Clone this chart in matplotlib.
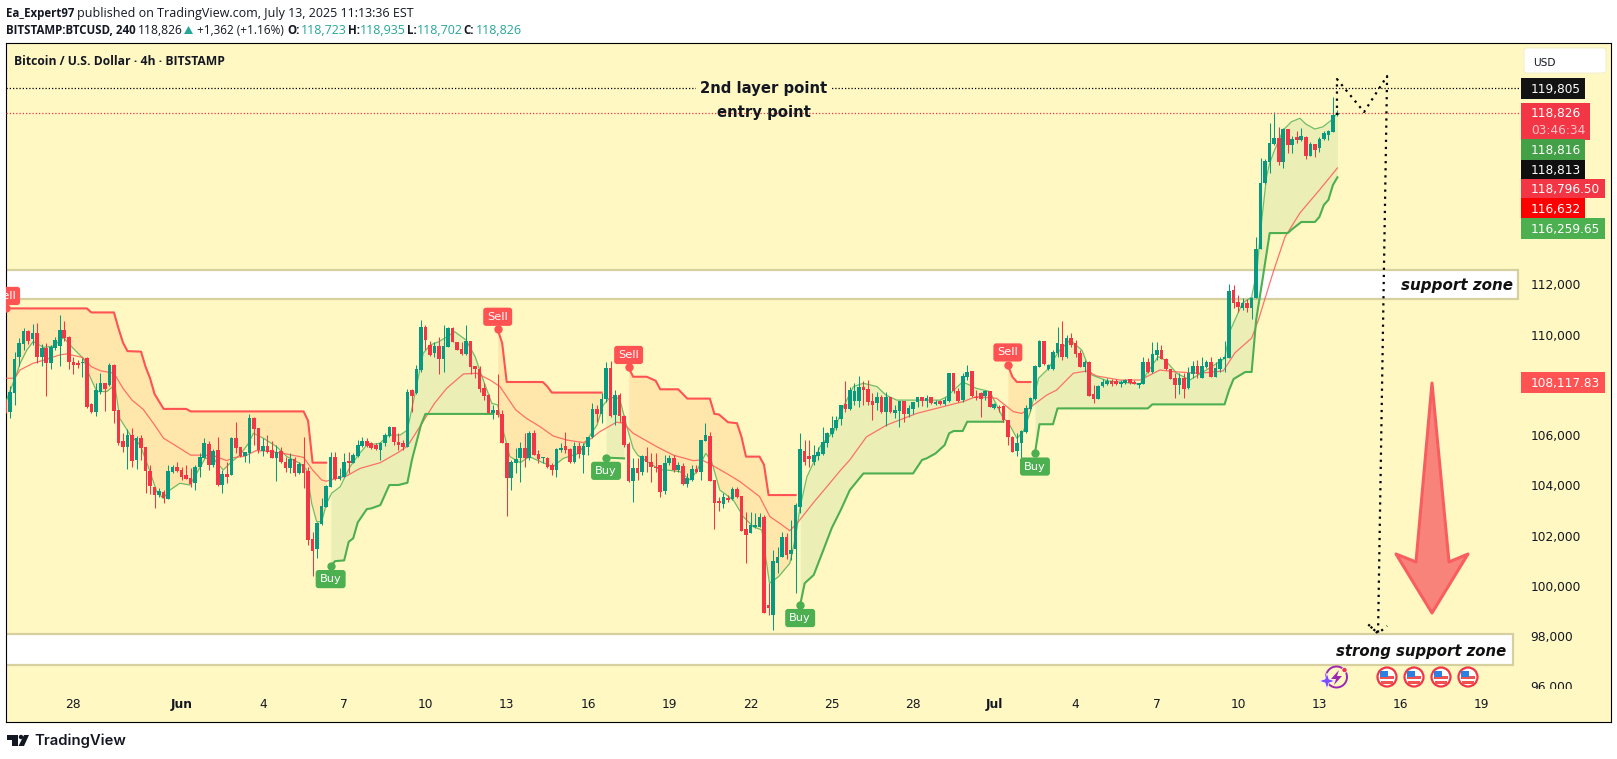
import numpy as np
import matplotlib
matplotlib.use("Agg")
import matplotlib.pyplot as plt
from matplotlib.patches import Rectangle, Polygon, Circle, FancyBboxPatch
from matplotlib.transforms import Affine2D, Bbox

# 4h candles, first one is 39 bars before Jun 1 00:00
opens = [107300,106930,107690,109090,109620,110140,109820,110050,109090,109450,
    108880,109450,109540,110170,109920,108910,108880,108880,109050,107230,
    106920,107730,108080,107980,108790,107000,105780,105510,106000,105010,
    105870,105510,104570,103920,103600,103740,103470,104540,104710,104610,
    104420,104280,104080,104740,105070,105640,104810,105400,104010,104450,
    104420,105870,105540,105160,105300,106680,106270,105360,105560,105400,
    105070,105360,104940,104670,105050,104470,104850,104570,101850,101480,
    102460,103120,103940,105120,104250,104340,104980,104900,105160,105560,
    105760,105670,105600,105400,105670,105970,106310,105740,105700,105540,
    107790,107660,108590,110310,109580,109250,109540,109040,109490,110250,
    109690,109410,109210,109740,108750,108620,107890,107580,106890,107000,
    106820,105700,104300,104870,105070,105500,105070,106090,105260,105070,
    105070,104810,104610,105400,105580,105460,104930,105560,105200,105540,
    105910,107020,106840,107420,108650,106800,107580,106760,105640,104180,
    104670,104540,105170,104940,104740,104810,103770,104870,105100,104590,
    104780,104050,104210,104650,104540,105780,105960,104210,103360,103250,
    103510,103440,103850,103570,102270,102090,102330,102350,102750,99230,
    98840,100890,101160,101950,101260,101450,103140,105380,105180,104940,
    105180,105240,105670,106040,106270,106620,107220,107020,107370,107370,
    107930,107830,107350,107260,107530,106900,107500,106890,106970,107350,
    106820,107040,107330,107500,107370,107500,107220,107370,107220,107370,
    108460,107770,107390,108300,108550,107530,107660,107550,107740,107060,
    107130,107160,106600,105930,105360,105670,106130,107040,107420,108720,
    109740,108620,108620,109280,109620,109120,109850,109650,109280,108720,
    108920,107630,107430,107950,108030,108160,108150,108020,108060,108220,
    108120,108000,108030,108890,108520,109170,109380,109030,108630,108280,
    107990,108260,107860,108430,108750,108260,108690,108920,108320,108630,
    109040,109060,111770,111280,111070,111240,111050,111440,113400,116030,
    116870,117580,117820,116870,118180,117540,117860,117740,117860,117110,
    117580,117430,117780,117940,118060,118723]
closes = [106930,107700,109010,109650,110140,109760,110050,109090,109450,108850,
    109490,109780,110170,109850,108910,108790,108770,108910,107100,106900,
    107780,108060,107820,108770,106970,105670,105540,106000,104980,105890,
    105500,104580,103970,103610,103770,103480,104570,104710,104570,104340,
    104260,104050,104740,105140,105680,104820,105380,104010,104450,104340,
    105890,105470,105160,105320,106660,106250,105400,105560,105340,105100,
    105340,104930,104670,105050,104470,104850,104500,101820,101400,102510,
    103170,103970,105120,104240,104380,104930,104900,105220,105600,105760,
    105560,105470,105430,105670,106000,106330,105740,105600,105510,107730,
    107550,108630,110310,109780,109190,109540,109010,109540,110250,109690,
    109380,109210,109760,108720,108620,107830,107570,106890,107000,106800,
    105670,104300,104930,105030,105500,105070,106090,105200,105050,105100,
    104740,104610,105440,105500,105400,104930,105560,105250,105560,105910,
    107020,106840,107420,108650,106760,107580,106760,105600,104170,104670,
    104470,105180,104910,104740,104670,103750,104870,105070,104610,104790,
    104050,104280,104650,104510,105800,106000,104180,103310,103280,103520,
    103410,103840,103550,102190,102020,102420,102420,102720,98900,99100,
    100990,101160,101950,101220,101420,103210,105430,104940,105050,105200,
    105310,105740,106090,106270,106600,107200,107050,107790,107770,107930,
    107790,107330,107200,107500,106900,107500,106900,107000,107350,106820,
    107090,107300,107500,107370,107490,107260,107330,107220,107390,108460,
    107750,107370,108350,108520,107570,107460,107420,107750,107130,107220,
    107060,106600,105930,105340,105670,106160,107060,107460,108750,109760,
    108830,108790,109290,109650,109120,109880,109580,109230,108720,108920,
    107570,107430,107970,108120,108160,108030,108030,108100,108190,108060,
    108040,108060,108890,108520,109230,109380,109030,108630,108230,107990,
    108280,107830,108460,108750,108430,108750,108920,108320,108660,109020,
    109120,111730,111240,111090,111240,111050,111440,113390,116030,116900,
    117620,117820,116870,118180,117540,117780,117740,117900,117110,117580,
    117350,117780,118020,118100,118740,118826]
highs = [107390,107950,109320,109850,110270,110180,110410,110450,109620,109650,
    109580,109920,110780,110540,109940,109120,108990,109050,109090,107260,
    108060,108460,108080,108880,108830,107000,106070,106230,106270,105960,
    106000,105510,104810,103940,103880,103810,104810,104810,104910,104740,
    104810,104670,104810,105300,105870,105760,105430,105910,104610,104940,
    105930,106510,105540,105340,106820,106730,106270,105870,106000,105780,
    105600,105510,105140,105270,105140,104940,105910,104740,102150,102550,
    103480,104010,105340,105340,104670,105270,105340,105270,105800,105930,
    105890,105740,105670,105740,106090,106360,106330,106070,105800,107820,
    107820,108790,110580,110380,109760,109720,109920,110380,110290,110290,
    109720,109720,110380,109760,108750,108750,108060,107630,107200,108430,
    107000,105700,105010,105500,105740,106070,106160,106200,105400,105140,
    105110,104870,105470,105670,106110,105470,105740,105740,105670,105930,
    107260,107200,107660,108920,108950,107790,107660,106800,105740,105070,
    105070,105200,105510,105270,105270,104810,105200,105200,105200,104940,
    104870,104470,104810,104810,105800,106470,106130,104210,103550,103680,
    103610,103940,103940,103570,102950,102950,102910,102880,102820,100100,
    101420,101560,102150,102090,102620,103280,106080,105800,105800,105600,
    105540,106330,106130,106760,106760,107200,108160,107930,108080,108350,
    108160,108190,107660,107730,107590,107730,107500,107200,107350,107350,
    107200,107330,107500,107530,107590,107530,107390,107390,107530,108460,
    108480,107860,108460,108790,108550,107790,107730,107790,107750,107260,
    107200,107200,106600,105970,106070,106200,107200,107500,108790,109780,
    109760,108830,109380,110290,110540,109980,110050,109780,109390,108990,
    108960,107990,107990,108220,108260,108220,108220,108190,108220,108220,
    108190,108060,109120,109050,109720,109720,109580,109050,108630,108460,
    108460,108460,108690,108960,108990,109120,108990,109120,108920,109120,
    109760,112010,111970,111580,111440,111400,111480,113870,117010,116990,
    118420,118860,118260,118220,118180,117900,118100,118220,117900,117660,
    117580,117860,118100,118140,119450,118935]
lows = [106860,106690,107200,108750,109380,109620,109580,108850,108750,107550,
    108620,109380,108750,109760,108620,108430,108650,108320,107060,106860,
    106760,107630,106970,107950,106490,105600,105340,104660,104740,104650,
    105010,103680,103650,103110,103550,103310,103440,104500,104540,104210,
    104240,103940,103810,104320,105070,104610,104710,103970,103680,104080,
    104410,105270,105110,104940,104900,105600,105270,105160,105270,105070,
    104180,104900,104510,104470,104370,104430,103880,101620,100400,101090,
    102420,103120,103940,104210,104210,104320,104470,104870,105140,105540,
    105540,105430,105400,105010,105560,105930,105600,105400,105400,105510,
    106930,107630,108520,109380,109150,109120,108430,108520,109490,109690,
    109380,109190,109190,108430,108260,107730,107390,106890,106620,106700,
    105670,102790,103810,104470,104140,104740,105010,105200,104870,104870,
    104670,104410,104340,105310,105270,104870,104870,105070,104500,105200,
    105870,106530,106470,107330,106730,106400,106530,105540,104140,103350,
    104210,104410,104540,104140,104540,103520,103640,104810,104540,104540,
    104010,103940,104180,104470,104210,105780,104180,102260,102990,103080,
    103350,103410,103480,102190,100920,102090,102290,102330,98900,98840,
    98240,100490,101160,101050,101020,99710,102890,104810,104740,104810,
    105010,105200,105540,105930,106200,106400,106930,107000,107200,107130,
    107200,107200,106600,107000,106890,106360,106860,106660,106330,106530,
    106730,106840,107130,107160,107130,107240,107200,107200,107200,107330,
    107660,107330,107330,108190,107530,107390,106730,107390,107100,107020,
    106930,106530,105600,105340,105180,105070,106070,106970,107390,108690,
    108790,108590,108590,109120,108990,109050,109520,109120,108720,108520,
    107550,107290,107420,107930,107990,107950,107990,107930,108030,108020,
    108020,107860,108020,108480,108460,108990,109010,108590,108220,107460,
    107630,107460,107830,108260,108260,108260,108650,108320,108320,108520,
    108520,109060,111050,110910,110980,110910,110610,111440,113400,116000,
    116430,117540,116750,116630,117230,117230,117620,117700,116990,117110,
    117070,117270,117740,117740,118060,118702]
first_bar = -39

# fast line (thin green), bar position / price
fast_k = [-39,-36.5,-35.8,-34.3,-32.9,-30.6,-28.4,-26.2,-24.4,-21.8,-20.3,-18.8,-16.6,-14.8,-13.7,-11.4,-9.2,-7.4,-5.5,-4.1,
    -2.6,-0.4,1.8,3.3,5.2,7,9.2,11.1,12.9,14.8,15.9,18.1,21,23.3,26.2,27.7,28.8,29.9,31,32.1,
    33.2,35.1,37.3,39.1,41,43.9,45.8,48.4,50,52,53.5,55,57,60.5,63,65,66.8,68.7,70,71.2,
    72.7,75,77,80,82.3,84.5,88,90,92,93.4,94.9,97,98.5,100,101,103.7,106,107.4,110.4,112.6,
    114,116.1,117.4,119.2,122.2,124.4,126.6,128.5,130.2,132.2,134.7,136,137,138.5,139.9,141.4,142,144.4,146.6,148.8,
    151,154,156,158.4,162,168,169.5,173,176,179,180.5,182,183,185,186.4,188,189.8,192,194.2,196.8,
    199.4,201.6,205,212.3,213.8,216.3,217.8,220.4,223.3,227,231,232.3,235,237,238.2,239,240.3,241,242.1,244,
    245.8,247.7,249,251,252.8,254.7,256]
fast_p = [107300,108460,108850,109380,109720,109490,109540,109880,109520,109050,108320,107730,107730,107990,106660,106000,105600,104740,103740,103480,
    103810,104080,104010,104470,105070,105070,104610,104940,105200,105670,106070,105870,105540,105140,104870,104610,103280,102550,102550,103280,
    103680,103940,104740,105200,105600,105670,106000,106000,106200,107930,109250,109580,109720,110110,109780,109120,108190,107260,107200,106200,
    105140,104900,105140,104900,104740,105070,105270,105870,106400,107200,107500,107460,106400,105470,105200,104870,104610,104610,104540,104210,
    104540,105270,104940,103810,103410,102750,102350,102220,100100,100360,100890,101950,103150,104340,104880,105540,105680,106130,107130,107930,
    108060,107930,107590,107390,107390,107390,107530,108120,107860,107730,107200,106660,106530,105870,106130,106930,108260,108650,109320,109780,
    109380,108390,108160,108030,108460,109120,108990,108460,108190,108590,109050,110180,111260,111490,112570,114160,116280,116820,117350,118140,
    118470,118610,118380,118180,118270,118540,118816]

# slow line (thin red)
slow_k = [-39,-37,-35.8,-33,-30,-27,-25.5,-22,-20,-18,-15,-13,-11,-8.5,-6,-4,-1,2,4,7,
    10,11.5,14,16.5,19,22.5,27,29,31,32,33.6,36.5,39.5,44,48,50,53,56,58.7,62.4,
    65.3,68.3,70.5,74,76.4,79.4,82.3,85.3,89,90.8,92.6,96.3,97.8,100,105.2,108.9,113.3,115.2,117.4,120.7,
    123.7,128,130.3,132.5,134.7,136.6,139.9,142.9,146,148,151.7,156.2,162.8,168.7,173.1,176,180.5,184.2,186.1,188.7,
    191.6,193.8,197.5,200.5,202.7,207.8,212.3,216.7,219.7,225.6,230.7,233.3,237,238.5,241.8,244.4,247.7,252,256]
slow_p = [108260,108260,108590,108850,109010,109190,109230,109090,108720,108560,108460,107860,107390,107020,106400,105870,105540,105200,105200,105180,
    104980,105100,105160,105380,105360,105270,105110,104610,104210,104160,104240,104370,104670,104900,105310,105560,106400,107260,107860,108430,
    108460,108190,107930,107000,106660,106330,105960,105800,105700,105870,106130,106510,106470,106070,105540,105200,104980,105010,104810,104470,
    104140,103550,102750,102480,102190,102550,103300,103940,104610,105010,105930,106400,106860,107130,107330,107530,107460,106930,106860,107200,
    107590,107790,108460,108550,108350,108190,108190,108590,108520,108460,108550,109270,109860,110580,112500,113890,114840,115750,116632]

# trailing stop, one pair of lists per leg
red1_k = [-39,-21,-20,-15,-14,-13,-12,-9,-8,-7,-6,-4,1,2,27,28,29,32]
red1_p = [111040,111040,110880,110880,110250,109680,109340,109320,108720,108260,107630,107040,107040,106940,106940,106570,104900,104900]
green1_k = [33,34,36,37,38,39,41,42,44,46,48,50,51,53,54,69]
green1_p = [100790,100980,101010,101750,101890,102520,103050,103080,103210,104010,104010,104100,105010,106400,106840,106840]
red2_k = [70,71,72,80,81,82,93]
red2_p = [110210,109650,108110,108110,107930,107690,107690]
green2_k = [94,98]
green2_p = [105100,105070]
red3_k = [99,100,103,105,106,110,112,117,118,119,121,123,124,125,128,129,130,136]
red3_p = [108690,108320,108320,108160,107820,107820,107450,107450,106840,106820,106510,106470,105930,105140,105140,104810,103610,103610]
green3_k = [137,138,140,142,144,146,148,151,162,164,165,167,169,170,171,173,174,182]
green3_p = [99240,100100,100430,101360,102300,103020,103810,104470,104470,105010,105070,105270,105600,106070,106160,106160,106530,106530]
red4_k = [183,184,185,188]
red4_p = [108790,108320,108110,108110]
green4_k = [189,190,193,194,214,215,231,232,233,235.6,237,238,239.5,241,245,246,248,251,252,253,254,255,256]
green4_p = [105270,106430,106430,107060,107060,107220,107220,107790,108230,108510,108510,110580,112290,114040,114040,114200,114480,114480,114680,115160,115360,115950,116260]
red_legs = [(red1_k, red1_p), (red2_k, red2_p), (red3_k, red3_p), (red4_k, red4_p)]
green_legs = [(green1_k, green1_p), (green2_k, green2_p), (green3_k, green3_p), (green4_k, green4_p)]

sell_k = [-39, 70, 99, 183]
sell_p = [111040, 110210, 108690, 108790]
buy_k = [33, 94, 137, 189]
buy_p = [100790, 105100, 99240, 105270]

# drawn levels and the projected path
second_layer = 119805
entry_level = 118826
support_zone = [111415, 112569]
strong_zone = [96848, 98082]
path_k = [255.9, 255.9, 261.9, 267, 265, 262.7, 265, 267]
path_p = [118740, 120170, 118860, 120290, 98100, 98480, 98100, 98400]

tick_k = [-24, 0, 18, 36, 54, 72, 90, 108, 126, 144, 162, 180, 198, 216, 234, 252, 270, 288]
tick_names = ["28", "Jun", "4", "7", "10", "13", "16", "19", "22", "25", "28", "Jul", "4", "7", "10", "13", "16", "19"]
price_ticks = [96000, 98000, 100000, 102000, 104000, 106000, 110000, 112000]

BG = "#FFF8C3"
UP = "#089981"
DOWN = "#F23645"
RED = "#FF5252"
GREEN = "#4CAF50"

fig = plt.figure(figsize=(16.17, 7.59), dpi=100, facecolor="white")
px = Affine2D().scale(1, -1).translate(0, 759)  # image pixels, y down

# frame is 6..1611 x 43..722 in the picture
ax = fig.add_axes([6 / 1617, 1 - 722 / 759, 1605 / 1617, 679 / 759], facecolor=BG)
ax.set_xlim(-38.91, 316.6)
ax.set_ylim(94576, 121606)

for zone, right in [(support_zone, 296), (strong_zone, 295)]:
    ax.add_patch(Rectangle((-45, zone[0]), right + 45, zone[1] - zone[0], fc="white", ec="#D6CF9E", lw=1.6, zorder=1))

# bands between the stop and the fast line
for legs, col, alpha in [(red_legs, "#FF9030", 0.16), (green_legs, GREEN, 0.11)]:
    for seg_k, seg_p in legs:
        grid = np.arange(seg_k[0], seg_k[-1] + 0.01, 0.25)
        ax.fill_between(grid, np.interp(grid, seg_k, seg_p), np.interp(grid, fast_k, fast_p), color=col, alpha=alpha, lw=0, zorder=2)

ax.plot(fast_k, fast_p, color=GREEN, lw=0.9, alpha=0.8, zorder=3)
ax.plot(slow_k, slow_p, color="#FF5252", lw=0.9, alpha=0.8, zorder=3)
for seg_k, seg_p in red_legs:
    ax.plot(seg_k, seg_p, color=RED, lw=1.5, solid_joinstyle="round", zorder=3)
for seg_k, seg_p in green_legs:
    ax.plot(seg_k, seg_p, color=GREEN, lw=1.5, solid_joinstyle="round", zorder=3)

# candles
opens = np.array(opens)
closes = np.array(closes)
highs = np.array(highs)
lows = np.array(lows)
bars = np.arange(len(opens)) + first_bar
colors = np.where(closes >= opens, UP, DOWN)
ax.vlines(bars, lows, highs, colors=colors, lw=0.75, zorder=4)
ax.bar(bars, np.maximum(np.abs(closes - opens), 40), bottom=np.minimum(opens, closes), width=0.8, color=colors, lw=0, zorder=4)

# levels
ax.plot([-39, 296.5], [second_layer, second_layer], color="black", lw=0.9, ls=(0, (1, 1.6)), zorder=5)
ax.plot([-39, 296.5], [entry_level, entry_level], color="#F23645", lw=0.9, ls=(0, (1, 1.6)), zorder=5)
ax.plot(path_k, path_p, color="black", lw=1.6, ls=(0, (1, 2.2)), zorder=6)

# signals
ax.scatter(sell_k, sell_p, s=36, color=RED, lw=0, zorder=6)
ax.scatter(buy_k, buy_p, s=36, color=GREEN, lw=0, zorder=6)
for k, p in zip(sell_k, sell_p):
    ax.annotate("Sell", (k, p), xytext=(0, 9), textcoords="offset points", ha="center", va="center", color="white", fontsize=8.2,
        annotation_clip=False, clip_on=True, zorder=7, bbox=dict(boxstyle="round,pad=0.36,rounding_size=0.25", fc=RED, ec="none"))
for k, p in zip(buy_k, buy_p):
    ax.annotate("Buy", (k, p), xytext=(0, -9.5), textcoords="offset points", ha="center", va="center", color="white", fontsize=8.2,
        annotation_clip=False, clip_on=True, zorder=7, bbox=dict(boxstyle="round,pad=0.36,rounding_size=0.25", fc=GREEN, ec="none"))

# drawn texts
ax.text(129, second_layer, "2nd layer point", ha="center", va="center", fontsize=10.7, weight="bold", color="#131722",
    zorder=6, bbox=dict(fc=BG, ec="none", pad=3))
ax.text(129, entry_level, "entry point", ha="center", va="center", fontsize=10.7, weight="bold", color="#131722", zorder=6)
ax.text(295, sum(support_zone) / 2 - 20, "support zone", ha="right", va="center", fontsize=10.9, weight="bold", style="italic", color="#111111", zorder=6)
ax.text(293.4, sum(strong_zone) / 2 - 70, "strong support zone", ha="right", va="center", fontsize=10.7, weight="bold", style="italic", color="#111111", zorder=6)

# axes
ax.set_xticks(tick_k)
ax.set_xticklabels(tick_names, fontsize=8.8, color="#131722")
for lbl, name in zip(ax.get_xticklabels(), tick_names):
    if name in ("Jun", "Jul"):
        lbl.set_fontweight("bold")
ax.tick_params(axis="x", length=0, pad=-17)
ax.yaxis.tick_right()
ax.set_yticks(price_ticks)
ax.set_yticklabels([f"{p:,}" for p in price_ticks], fontsize=8.8, color="#131722")
ax.tick_params(axis="y", length=0, pad=-58)
for lbl in ax.get_yticklabels():
    lbl.set_clip_on(True)
    lbl.set_clip_box(Bbox([[0, 70], [1617, 759]]))  # 96,000 is cut by the time axis
for s in ax.spines.values():
    s.set_linewidth(0.8)
    s.set_color("black")


def label(x, y, s, **kw):
    kw.setdefault("fontsize", 9)
    kw.setdefault("family", "Open Sans")
    kw.setdefault("color", "#131722")
    fig.text(x, y + 1, s, transform=px, va="center", **kw)


# header
label(6, 13, "Ea_Expert97", weight="bold", fontsize=8.3)
label(77, 13, "published on TradingView.com, July 13, 2025 11:13:36 EST")
label(6, 30, "BITSTAMP:BTCUSD, 240", weight="bold", fontsize=8.3)
label(138, 30, "118,826", fontsize=8.7)
fig.add_artist(Polygon([(184, 34), (193, 34), (188.5, 26)], closed=True, fc="#26A69A", ec="none", transform=px))
label(197, 30, "+1,362 (+1.16%)", fontsize=8.5)
for x0, name, x1, val in [(287, "O:", 301, "118,723"), (348, "H:", 360, "118,935"), (407, "L:", 417, "118,702"), (463, "C:", 476, "118,826")]:
    label(x0, 30, name, weight="bold", fontsize=8.3)
    label(x1, 30, val, color="#26A69A")
label(14, 60.7, "Bitcoin / U.S. Dollar · 4h · BITSTAMP", weight="bold", fontsize=8.7)

# price scale tags: text, top, bottom, right edge, colour
tags = [("119,805", 78, 99, 1585, "#131313"), ("118,826", 103, 140, 1590, "#F23645"), ("118,816", 139, 160, 1585, "#43A047"),
    ("118,813", 160, 179, 1585, "#0F0F0F"), ("118,796.50", 179, 198, 1605, "#F23645"), ("116,632", 198, 218, 1585, "#FF0000"),
    ("116,259.65", 218, 239, 1605, "#4CAF50"), ("108,117.83", 372, 393, 1605, "#FF5252")]
for txt, y0, y1, x1, col in tags:
    fig.add_artist(Rectangle((1521, y0), x1 - 1521, y1 - y0, fc=col, ec="none", transform=px))
    cy = 113 if txt == "118,826" else (y0 + y1) / 2
    label(1531, cy, txt, color="white", family="DejaVu Sans", fontsize=8.7)
label(1531, 129, "03:46:34", color="#FBC4C9", family="DejaVu Sans", fontsize=8.7)
fig.add_artist(FancyBboxPatch((1526, 50), 78, 21, boxstyle="round,pad=2,rounding_size=3", fc="white", ec="#F3EFD0", lw=0.8, transform=px))
label(1533, 61.5, "USD", family="DejaVu Sans", fontsize=7.6)

# big arrow
fig.add_artist(Polygon([(1432, 383), (1449, 562), (1468, 554), (1432, 613), (1396, 554), (1416, 562)], closed=True,
    fc="#F8837A", ec="#F85E60", lw=2.2, joinstyle="round", transform=px))

# event flags
for cx in [1387, 1414, 1441, 1468]:
    fig.add_artist(Circle((cx, 677), 9.5, fc="white", ec="#F23645", lw=1.6, transform=px))
    fig.add_artist(Rectangle((cx - 7, 676), 14, 3, fc="#F0534F", ec="none", transform=px))
    fig.add_artist(Rectangle((cx - 6, 681), 12, 2.5, fc="#F0534F", ec="none", transform=px))
    fig.add_artist(Rectangle((cx - 7, 671), 7.5, 6, fc="#2D7FE0", ec="none", transform=px))

# earnings/news badge
fig.add_artist(Circle((1336.5, 677), 10.5, fc="none", ec="#9C27B0", lw=1.4, transform=px))
fig.add_artist(Polygon([(1339, 670), (1331, 679), (1336, 679), (1334, 685), (1342, 676), (1337, 676)], closed=True, fc="#9C27B0", ec="none", transform=px))
fig.add_artist(Polygon([(1327, 673), (1329, 679), (1335, 681), (1329, 683), (1327, 689), (1325, 683), (1319, 681), (1325, 679)], closed=True, fc="#7C4DFF", ec="white", lw=0.5, transform=px))
fig.add_artist(Circle((1344.5, 670), 2.6, fc="#F23645", ec="white", lw=0.5, transform=px))

# logo
fig.add_artist(Polygon([(7, 735), (18, 735), (18, 746), (12, 746), (12, 739.5), (7, 739.5)], closed=True, fc="#131722", ec="none", transform=px))
fig.add_artist(Circle((21, 737), 2.2, fc="#131722", ec="none", transform=px))
fig.add_artist(Polygon([(24, 735), (29, 735), (24, 746), (18.5, 746)], closed=True, fc="#131722", ec="none", transform=px))
label(34, 740, "TradingView", fontsize=10.7, family="Inter", weight="semibold")

fig.savefig("out.png", dpi=100)
